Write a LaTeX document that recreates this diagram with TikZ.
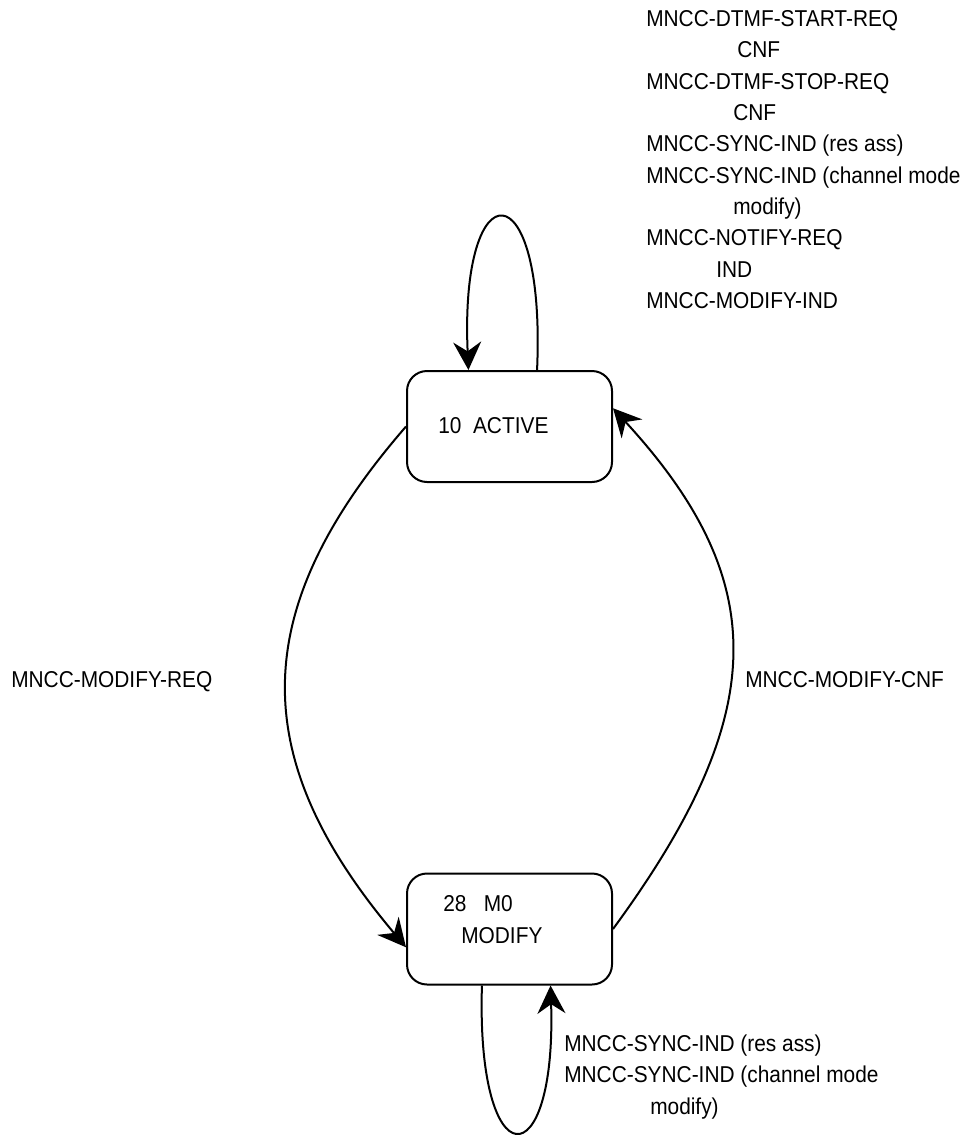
\documentclass[tikz,border=0pt]{standalone}
\usepackage{fontspec}
\setmainfont[FakeStretch=0.91]{Liberation Sans}
\usetikzlibrary{arrows.meta}

\begin{document}
\begin{tikzpicture}[x=0.75pt, y=-0.75pt, line join=round,
  >={Stealth[length=21pt, width=21pt, inset=7pt]},
  statebox/.style={draw, line width=1.5pt, rounded corners=15pt,
    minimum width=153.75pt, minimum height=83.25pt, inner sep=0pt},
  msg/.style={font=\fontsize{17.2pt}{23.5pt}\selectfont, inner sep=0pt, align=left},
  trans/.style={line width=1.5pt, ->}]
  \useasboundingbox (0,0) rectangle (962,1135);

  % ========================================================
  % 1. STATES
  % ========================================================
  \node[statebox] (active) at (509.5,426.5) {};
  \node[statebox] (modify) at (509.5,929) {};
  \node[msg, anchor=base west] (activetxt) at (438,433) {10\ \ ACTIVE};
  % (base of a multi-line node = its last line)
  \node[msg, anchor=base west] (modifytxt) at (443,943) {28\ \ \ M0\\\hspace*{13.5pt}MODIFY};

  % ========================================================
  % 2. TRANSITIONS
  % ========================================================
  \draw[trans] (active.64) .. controls +(9,-203) and +(-9,-203) .. (active.126);
  \draw[trans] (active.west) .. controls +(-158,182) and +(-161,-191) .. (modify.190);
  \draw[trans] (modify.east) .. controls +(157,-214) and +(160,174) .. (active.10);
  \draw[trans] (modify.244) .. controls +(-6,195) and +(6,195) .. (modify.-54);

  % ========================================================
  % 3. MESSAGE LABELS
  % ========================================================
  \node[msg, anchor=base west] (selfactive) at (646,308.5)
    {MNCC-DTMF-START-REQ\\\hspace*{68.25pt}CNF\\MNCC-DTMF-STOP-REQ\\\hspace*{65.25pt}CNF\\
     MNCC-SYNC-IND (res ass)\\MNCC-SYNC-IND (channel mode\\\hspace*{65.25pt}modify)\\
     MNCC-NOTIFY-REQ\\\hspace*{52.5pt}IND\\MNCC-MODIFY-IND};
  \node[msg, anchor=base west] (modreq) at (11,687) {MNCC-MODIFY-REQ};
  \node[msg, anchor=base west] (modcnf) at (745,687) {MNCC-MODIFY-CNF};
  \node[msg, anchor=base west] (selfmodify) at (564,1114)
    {MNCC-SYNC-IND (res ass)\\MNCC-SYNC-IND (channel mode\\\hspace*{64.5pt}modify)};

\end{tikzpicture}
\end{document}
